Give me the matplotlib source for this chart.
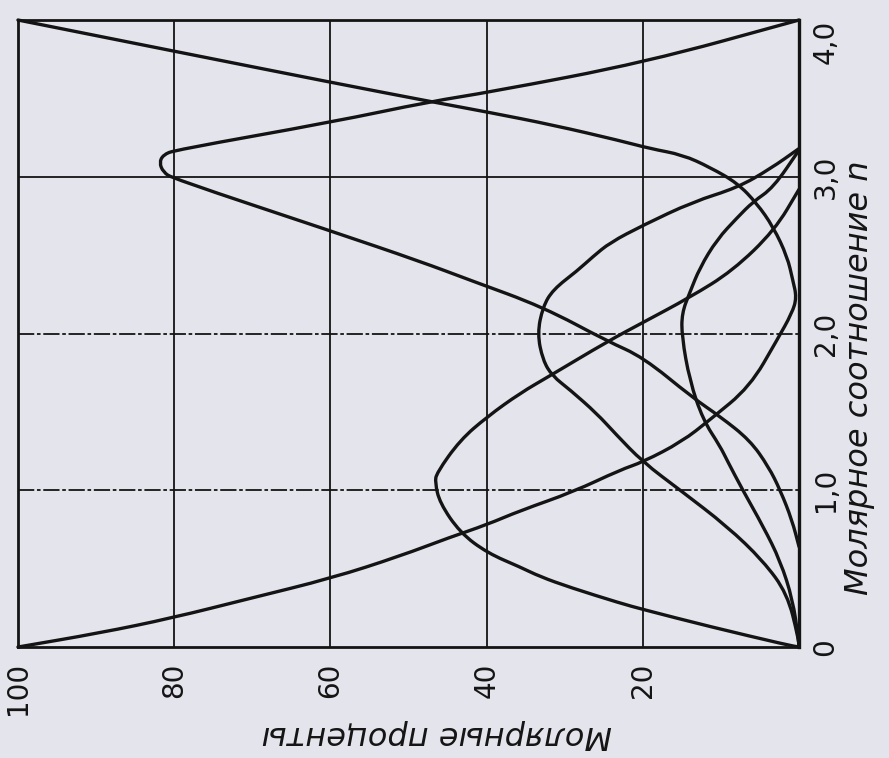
import matplotlib.pyplot as plt
from matplotlib.path import Path
from matplotlib.patches import PathPatch

# molar ratio n (vertical) against molar percent of each form (horizontal, 100 at the left)

# curve that starts at 100 % for n = 0, drops to ~0 near n = 2.2 and returns to 100 % at n = 4
u_n = [0.00, 0.09, 0.185, 0.31, 0.44, 0.58, 0.70, 0.78, 0.87, 0.99, 1.13, 1.18, 1.31,
       1.45, 1.66, 1.96, 2.13, 2.23, 2.34, 2.49, 2.68, 2.83, 2.96, 3.06, 3.14, 3.18,
       3.23, 3.33, 3.41, 3.48, 3.60, 3.80, 4.00]
u_p = [100.0, 89.5, 80.3, 70.3, 59.8, 51.1, 44.7, 40.0, 35.7, 28.9, 22.9, 20.0, 15.0,
       11.4, 6.3, 2.8, 0.9, 0.3, 0.8, 1.5, 3.3, 5.4, 7.9, 11.4, 14.9, 19.1,
       22.9, 31.5, 39.6, 47.2, 59.7, 79.9, 100.0]

# large form, maximum ~82 % near n = 3.1
m3_n = [0.64, 0.81, 1.00, 1.15, 1.32, 1.47, 1.59, 1.85, 1.95, 2.17, 2.34, 2.46, 2.65,
        2.99, 3.03, 3.09, 3.14, 3.17, 3.35, 3.48, 3.54, 3.73, 4.00]
m3_p = [0.0, 0.9, 2.4, 3.9, 6.3, 10.1, 13.6, 20.0, 24.5, 32.8, 42.1, 48.5, 59.7,
        80.2, 81.4, 81.9, 81.4, 79.9, 59.7, 47.2, 39.6, 19.7, 0.0]

# form with maximum ~47 % near n = 1
m1_n = [0.00, 0.013, 0.13, 0.24, 0.28, 0.38, 0.45, 0.51, 0.60, 0.73, 0.92, 1.05, 1.11,
        1.32, 1.47, 1.62, 1.73, 1.95, 2.07, 2.23, 2.40, 2.66, 2.92]
m1_p = [0.0, 1.5, 11.4, 20.0, 22.9, 29.3, 33.2, 35.7, 39.9, 43.4, 46.0, 46.6, 46.4,
        43.4, 39.9, 35.7, 31.9, 24.5, 20.0, 14.0, 8.5, 3.1, 0.0]

# form with maximum ~33 % near n = 2
m2_n = [0.00, 0.06, 0.34, 0.55, 0.77, 1.00, 1.18, 1.36, 1.49, 1.64, 1.73, 1.83, 2.00,
        2.17, 2.28, 2.40, 2.49, 2.58, 2.69, 2.84, 2.93, 3.05, 3.18]
m2_p = [0.0, 0.1, 1.5, 4.6, 9.2, 15.2, 20.0, 23.5, 25.9, 29.3, 31.6, 32.8, 33.5,
        32.8, 31.5, 28.4, 26.4, 24.2, 20.0, 13.6, 7.9, 3.7, 0.0]

# form with maximum ~15 % near n = 2
m4_n = [0.00, 0.06, 0.30, 0.55, 0.77, 1.00, 1.19, 1.28, 1.45, 1.70, 1.98, 2.13, 2.26,
        2.42, 2.60, 2.74, 2.84, 2.93, 3.17]
m4_p = [0.0, 0.1, 0.8, 2.4, 4.6, 7.2, 9.2, 10.1, 12.3, 14.0, 15.0, 15.0, 14.0,
        12.7, 10.5, 7.9, 5.9, 3.3, 0.0]

pct_ticks = [100, 80, 60, 40, 20]
pct_labels = ['100', '80', '60', '40', '20']
n_ticks = [0, 1, 2, 3, 4]
n_labels = ['0', '1,0', '2,0', '3,0', '4,0']

paper = '#e4e5ec'
ink = '#141414'


def smooth_path(xs, ys):
    # quadratic pieces through the midpoints, the read points act as control points
    pts = list(zip(xs, ys))
    verts = [pts[0]]
    codes = [Path.MOVETO]
    for i in range(1, len(pts) - 1):
        mid = ((pts[i][0] + pts[i + 1][0]) / 2, (pts[i][1] + pts[i + 1][1]) / 2)
        if i == 1:
            first = ((pts[0][0] + pts[1][0]) / 2, (pts[0][1] + pts[1][1]) / 2)
            verts.append(first)
            codes.append(Path.LINETO)
        verts += [pts[i], mid]
        codes += [Path.CURVE3, Path.CURVE3]
    verts.append(pts[-1])
    codes.append(Path.LINETO)
    return Path(verts, codes)


fig = plt.figure(figsize=(8.89, 7.58), dpi=100, facecolor=paper)
ax = fig.add_axes([0.0202, 0.1464, 0.8786, 0.8272], facecolor=paper)

ax.set_xlim(100, 0)
ax.set_ylim(0, 4)

# grid
for p in [80, 60, 40, 20]:
    ax.axvline(p, color=ink, lw=1.3, zorder=1)
ax.axhline(3, color=ink, lw=1.3, zorder=1)
for n in [1, 2]:
    ax.axhline(n, color=ink, lw=1.3, dashes=(9, 1.5, 2, 1.5), zorder=1)

for xs, ys in [(u_p, u_n), (m3_p, m3_n), (m1_p, m1_n), (m2_p, m2_n), (m4_p, m4_n)]:
    ax.add_patch(PathPatch(smooth_path(xs, ys), fill=False, edgecolor=ink,
                           lw=2.4, joinstyle='round', capstyle='round',
                           zorder=3, clip_on=False))

for s in ax.spines.values():
    s.set_color(ink)
    s.set_linewidth(2.0)
ax.spines['right'].set_linewidth(2.4)

lab_font = ['DejaVu Sans']
ax.set_xticks(pct_ticks)
ax.set_xticklabels(pct_labels, rotation=90, fontsize=20, family=lab_font,
                   va='top', ha='center')
ax.tick_params(axis='x', length=0, pad=11, colors=ink)

ax.yaxis.tick_right()
ax.set_yticks(n_ticks)
ax.set_yticklabels(n_labels, rotation=90, fontsize=20, family=lab_font,
                   va='center', ha='left')
ax.get_yticklabels()[-1].set_va('top')
ax.tick_params(axis='y', length=0, pad=9, colors=ink)

ax.yaxis.set_label_position('right')
ax.set_ylabel('Молярное соотношение n', fontsize=23, style='italic',
              rotation=90, va='center', ha='center', color=ink)
ax.yaxis.set_label_coords(1.078, 0.43)

ax.set_xlabel('Молярные проценты', fontsize=23, style='italic',
              rotation=180, va='center', ha='center', color=ink)
ax.xaxis.set_label_coords(0.536, -0.14)

fig.savefig('out.png', dpi=100, facecolor=paper)
